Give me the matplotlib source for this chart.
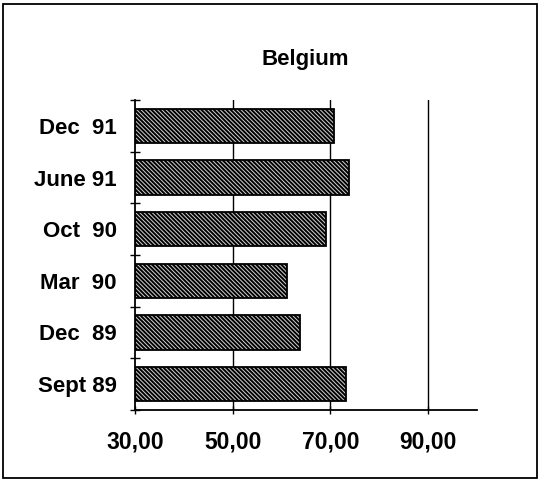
import matplotlib
matplotlib.use("Agg")
import matplotlib.pyplot as plt
from matplotlib.patches import Rectangle
import numpy as np

categories = ["Sept 89", "Dec  89", "Mar  90", "Oct  90", "June 91", "Dec  91"]
values = [73.2, 63.7, 61.1, 69.1, 73.9, 70.8]
xticks = [30, 50, 70, 90]
xtick_labels = ["30,00", "50,00", "70,00", "90,00"]
title = "Belgium"

plt.rcParams['font.family'] = ['Liberation Sans', 'DejaVu Sans']
plt.rcParams['hatch.linewidth'] = 1.4

fig = plt.figure(figsize=(5.42, 4.82), dpi=100)
ax = fig.add_axes([135/542, 1-410/482, (477-135)/542, (410-100)/482])

y = np.arange(len(categories))
for xv in [50, 70, 90]:
    ax.axvline(xv, color='black', lw=1.0, zorder=0)
ax.barh(y, [v - 30 for v in values], left=30, height=0.66, color='#d0d0d0',
        edgecolor='black', hatch='\\' * 8, linewidth=1.3, zorder=2)

fs = 16
ax.set_xlim(30, 100)
ax.set_ylim(-0.5, len(categories) - 0.5)
ax.set_xticks(xticks)
ax.set_xticklabels(xtick_labels, fontsize=16.5, fontweight='bold')
ax.set_yticks(y)
ax.set_yticklabels(categories, fontsize=fs, fontweight='bold')
ax.set_yticks(np.arange(-0.5, len(categories), 1.0), minor=True)
ax.tick_params(axis='y', which='major', length=0, pad=13)
ax.tick_params(axis='y', which='minor', length=7, direction='inout', width=1)
ax.tick_params(axis='x', which='major', length=6, direction='inout', width=1, pad=12)
for s in ['top', 'right']:
    ax.spines[s].set_visible(False)
for s in ['left', 'bottom']:
    ax.spines[s].set_linewidth(1.3)

fig.text(305/542, 1-60/482, title, ha='center', va='center', fontsize=fs, fontweight='bold')
fig.patches.append(Rectangle((3/542, 4/482), 534/542, 474/482, transform=fig.transFigure,
                             fill=False, edgecolor='black', linewidth=1.3))

fig.savefig("out.png", dpi=100)
